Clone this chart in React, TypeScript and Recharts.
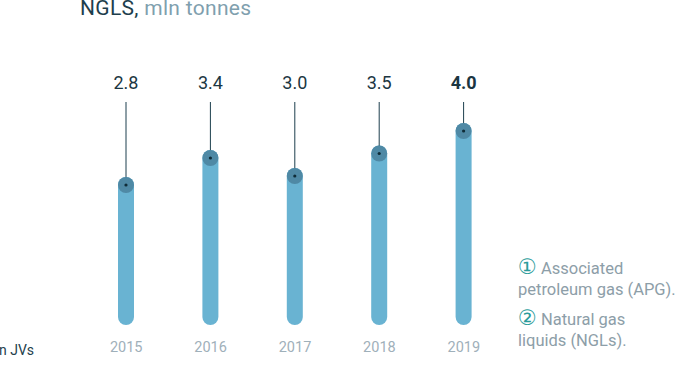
import React from 'react';
import { BarChart, Bar, XAxis, YAxis, LabelList } from 'recharts';

const years = ['2015', '2016', '2017', '2018', '2019'];
const ngls = [2.8, 3.4, 3.0, 3.5, 4.0];
const valueLabels = ['2.8', '3.4', '3.0', '3.5', '4.0'];

const data = years.map((y, i) => ({ year: y, value: ngls[i], label: valueLabels[i], bold: i === years.length - 1 }));

const FONT = 'Roboto, "DejaVu Sans", sans-serif';

const BarShape = (props: any) => {
  const { x, y, width, background } = props;
  const bottom = background ? background.y + background.height : 325;
  const r = width / 2;
  const top = y - r;
  return <rect x={x} y={top} width={width} height={bottom - top} rx={r} ry={r} fill="#69b3d2" />;
};

const TopLabel = (props: any) => {
  const { x, y, width, index } = props;
  const cx = x + width / 2;
  const d = data[index];
  return (
    <g>
      <line x1={cx} y1={102} x2={cx} y2={y} stroke="#1d3f4e" strokeWidth={1} />
      <circle cx={cx} cy={y} r={8} fill="#4f89a5" />
      <circle cx={cx} cy={y} r={1.6} fill="#0f2c38" />
      <text x={cx} y={89} textAnchor="middle" fontFamily={FONT} fontSize={18} fontWeight={d.bold ? 700 : 400} fill="#1b3642">
        {d.label}
      </text>
    </g>
  );
};

const YearTick = (props: any) => {
  const { x, payload } = props;
  return (
    <text x={x} y={352} textAnchor="middle" fontFamily={FONT} fontSize={14.5} fill="#9fb0ba">
      {payload.value}
    </text>
  );
};

export default function App() {
  return (
    <div style={{ position: 'absolute', left: 0, top: 0, width: 684, height: 371, background: '#fff', fontFamily: FONT }}>
      <div style={{ position: 'absolute', left: 80, top: -5, fontSize: 21, whiteSpace: 'nowrap', lineHeight: '26px', letterSpacing: 0.3 }}>
        <span style={{ color: '#1e3e4c' }}>NGLS,</span>
        <span style={{ color: '#7f9fae' }}> mln tonnes</span>
      </div>
      <div style={{ position: 'absolute', left: -1, top: 342, fontSize: 14, color: '#24414d', whiteSpace: 'nowrap' }}>n JVs</div>
      <div style={{ position: 'absolute', left: 518, top: 257, fontSize: 16.5, color: '#8d9ea8', lineHeight: '21px', whiteSpace: 'nowrap' }}>
        <div><span style={{ color: '#2b9c9b', fontSize: 21 }}>①</span> Associated</div>
        <div>petroleum gas (APG).</div>
        <div style={{ marginTop: 8 }}><span style={{ color: '#2b9c9b', fontSize: 21 }}>②</span> Natural gas</div>
        <div>liquids (NGLs).</div>
      </div>
      <div style={{ position: 'absolute', left: 0, top: 0 }}>
        <BarChart width={684} height={371} data={data} margin={{ top: 86, right: 178, bottom: 0, left: 84 }} barSize={16}>
          <XAxis dataKey="year" axisLine={false} tickLine={false} height={46} tick={<YearTick />} interval={0} />
          <YAxis hide domain={[-0.3111, 5]} allowDataOverflow />
          <Bar dataKey="value" shape={<BarShape />} isAnimationActive={false}>
            <LabelList dataKey="value" content={<TopLabel />} />
          </Bar>
        </BarChart>
      </div>
    </div>
  );
}
